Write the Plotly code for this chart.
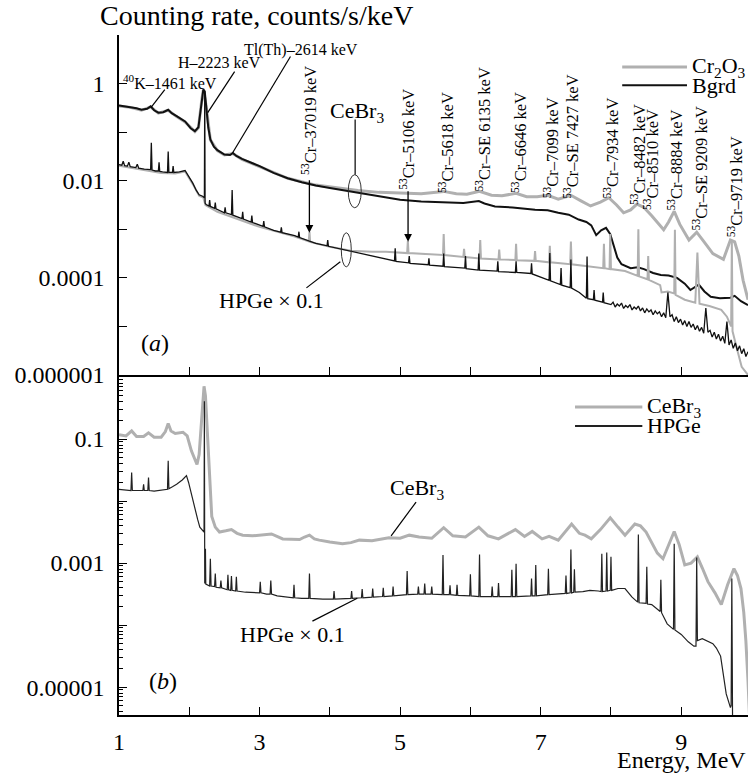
import plotly.graph_objects as go

# ---------------- data (values are log10 of counts/s/keV) ----------------
# Panel (a): CeBr3 spectra
bgrd_energy = [1.00,1.08,1.16,1.25,1.32,1.40,1.45,1.50,1.56,1.63,1.70,1.75,1.82,1.94,2.02,2.08,2.13,2.16,2.18,2.20,
               2.22,2.24,2.27,2.30,2.35,2.40,2.50,2.58,2.62,2.67,2.75,2.90,3.00,3.20,3.40,3.60,3.80,4.00,4.20,4.40,
               4.70,5.00,5.30,5.60,5.90,6.12,6.20,6.35,6.60,6.92,7.10,7.25,7.40,7.54,7.65,7.72,7.79,7.86,7.93,7.99,
               8.05,8.09,8.15,8.28,8.38,8.47,8.60,8.71,8.82,8.94,9.05,9.13,9.25,9.33,9.42,9.55,9.70,9.76,9.85,9.95]
bgrd_log10 = [-0.45,-0.47,-0.48,-0.51,-0.54,-0.52,-0.47,-0.55,-0.60,-0.59,-0.54,-0.61,-0.67,-0.78,-0.92,-0.98,-0.90,-0.60,-0.30,-0.12,
              -0.16,-0.45,-0.90,-1.15,-1.30,-1.37,-1.46,-1.47,-1.43,-1.49,-1.55,-1.64,-1.70,-1.84,-1.95,-2.03,-2.10,-2.15,-2.20,-2.25,
              -2.33,-2.39,-2.43,-2.45,-2.46,-2.42,-2.47,-2.53,-2.55,-2.60,-2.61,-2.66,-2.70,-2.80,-2.85,-2.92,-3.12,-3.02,-2.97,-3.10,
              -3.40,-3.58,-3.72,-3.80,-3.78,-3.82,-3.90,-3.94,-3.95,-4.00,-4.12,-4.25,-4.14,-4.28,-4.39,-4.42,-4.41,-4.37,-4.48,-4.56]

cr2o3_energy = [1.00,1.16,1.32,1.45,1.56,1.70,1.82,1.94,2.08,2.13,2.18,2.20,2.24,2.30,2.40,2.50,2.62,2.75,3.00,3.40,
                3.80,4.00,4.20,4.40,4.70,5.00,5.30,5.62,5.80,5.95,6.13,6.30,6.45,6.65,6.80,6.95,7.10,7.25,7.43,7.58,
                7.71,7.85,7.97,8.08,8.18,8.28,8.37,8.47,8.58,8.75,8.82,8.90,8.98,9.11,9.22,9.32,9.45,9.60,9.70,9.76,
                9.82,9.88,9.95]
cr2o3_log10 = [-0.46,-0.49,-0.55,-0.48,-0.61,-0.55,-0.68,-0.79,-0.99,-0.91,-0.31,-0.13,-0.46,-1.16,-1.38,-1.47,-1.44,-1.56,-1.71,-1.95,
               -2.09,-2.13,-2.17,-2.20,-2.24,-2.26,-2.27,-2.22,-2.27,-2.28,-2.22,-2.30,-2.31,-2.26,-2.33,-2.33,-2.30,-2.38,-2.30,-2.42,
               -2.52,-2.44,-2.35,-2.50,-2.66,-2.60,-2.48,-2.55,-2.72,-3.01,-2.85,-2.63,-2.90,-3.22,-3.06,-3.25,-3.50,-3.62,-3.22,-3.26,
               -3.55,-4.05,-4.45]

# Panel (a): HPGe x 0.1 spectra
hpge_bgrd_energy = [1.00,1.04,1.06,1.08,1.12,1.14,1.16,1.24,1.26,1.28,1.36,1.45,1.46,1.47,1.52,1.56,1.57,1.58,1.62,1.69,
                    1.70,1.71,1.76,1.77,1.78,1.86,1.94,2.00,2.05,2.10,2.14,2.19,2.215,2.22,2.225,2.24,2.28,2.29,2.30,2.36,
                    2.37,2.38,2.45,2.50,2.51,2.52,2.60,2.61,2.62,2.70,2.75,2.76,2.77,2.88,2.89,2.90,3.00,3.05,3.06,3.07,
                    3.20,3.30,3.31,3.32,3.50,3.55,3.56,3.57,3.70,3.80,3.96,3.97,3.98,4.20,4.40,4.60,4.80,4.92,4.93,4.94,
                    5.12,5.13,5.14,5.40,5.41,5.42,5.61,5.62,5.63,5.92,5.93,5.94,6.11,6.12,6.13,6.38,6.39,6.40,6.64,6.65,
                    6.66,6.86,6.87,6.88,7.12,7.13,7.14,7.28,7.29,7.30,7.42,7.43,7.44,7.55,7.65,7.66,7.67,7.75,7.76,7.77,
                    7.88,7.89,7.90,7.95,
                    8.00,8.03,8.06,8.09,8.12,8.15,8.18,8.21,8.24,8.27,8.30,8.33,8.36,8.39,8.42,8.45,8.48,8.51,8.54,8.57,
                    8.60,8.63,8.66,8.69,8.72,8.75,8.78,8.81,8.84,8.87,8.90,8.93,8.96,8.99,9.02,9.05,9.08,9.11,9.14,9.17,
                    9.20,9.23,9.26,9.29,9.32,9.35,9.38,9.41,9.44,9.47,9.50,9.53,9.56,9.59,9.62,9.65,9.68,9.71,9.74,9.77,
                    9.80,9.83,9.86,9.89,9.92,9.95]
hpge_bgrd_log10 = [-1.67,-1.68,-1.60,-1.69,-1.70,-1.62,-1.71,-1.73,-1.66,-1.74,-1.76,-1.77,-1.22,-1.78,-1.80,-1.80,-1.62,-1.81,-1.82,-1.83,
                   -1.40,-1.83,-1.83,-1.70,-1.83,-1.82,-1.79,-1.92,-2.05,-2.20,-2.29,-2.32,-2.35,-0.16,-2.46,-2.49,-2.52,-2.40,-2.53,-2.57,
                   -2.45,-2.58,-2.63,-2.66,-2.55,-2.66,-2.70,-2.19,-2.71,-2.76,-2.78,-2.64,-2.79,-2.85,-2.72,-2.86,-2.92,-2.94,-2.83,-2.95,
                   -3.02,-3.06,-2.96,-3.07,-3.13,-3.16,-3.05,-3.17,-3.24,-3.29,-3.34,-3.22,-3.35,-3.42,-3.49,-3.56,-3.62,-3.65,-3.39,-3.66,
                   -3.69,-3.55,-3.70,-3.73,-3.60,-3.74,-3.76,-3.50,-3.77,-3.80,-3.55,-3.81,-3.84,-3.50,-3.84,-3.86,-3.66,-3.87,-3.89,-3.66,
                   -3.89,-3.91,-3.70,-3.92,-4.05,-3.49,-4.06,-4.14,-3.80,-4.15,-4.20,-3.62,-4.21,-4.30,-4.42,-3.56,-4.43,-4.45,-4.25,-4.46,
                   -4.50,-4.30,-4.51,-4.53,
                   -4.55,-4.50,-4.60,-4.54,-4.58,-4.52,-4.63,-4.57,-4.61,-4.55,-4.66,-4.60,-4.64,-4.58,-4.68,-4.62,-4.72,-4.64,-4.70,-4.66,
                   -4.76,-4.68,-4.74,-4.70,-4.80,-4.72,-4.82,-4.30,-4.80,-4.76,-4.90,-4.80,-4.92,-4.85,-4.97,-4.88,-5.00,-4.90,-5.02,-4.95,
                   -5.07,-4.98,-5.10,-5.02,-5.14,-4.62,-5.12,-5.08,-5.22,-5.12,-5.26,-5.16,-5.30,-5.20,-5.35,-4.90,-5.38,-5.28,-5.45,-5.34,
                   -5.50,-5.40,-5.56,-5.46,-5.62,-5.52]

hpge_cr2o3_energy = [1.00,1.20,1.40,1.60,1.80,1.94,2.05,2.14,2.20,2.23,2.40,2.70,3.00,3.50,3.70,3.71,3.72,4.00,4.30,4.60,
                     4.80,5.10,5.11,5.12,5.40,5.61,5.62,5.63,5.90,5.91,5.92,6.13,6.14,6.15,6.40,6.41,6.42,6.64,6.65,6.66,
                     6.91,6.92,6.93,7.12,7.13,7.14,7.42,7.43,7.44,7.60,7.89,7.90,7.91,7.98,7.99,8.00,8.20,8.38,8.39,8.40,
                     8.52,8.53,8.54,8.70,8.72,8.81,8.90,8.91,8.92,9.05,9.20,9.23,9.26,9.40,9.57,9.65,9.71,9.72,9.73,9.80,
                     9.86,9.95]
hpge_cr2o3_log10 = [-1.69,-1.74,-1.79,-1.84,-1.85,-1.81,-2.07,-2.31,-2.35,-2.50,-2.64,-2.79,-2.95,-3.15,-3.25,-3.05,-3.26,-3.36,-3.44,-3.46,
                    -3.46,-3.49,-3.24,-3.49,-3.52,-3.53,-3.10,-3.53,-3.57,-3.40,-3.57,-3.60,-3.22,-3.60,-3.62,-3.42,-3.62,-3.63,-3.30,-3.64,
                    -3.65,-3.45,-3.65,-3.68,-3.34,-3.68,-3.72,-3.25,-3.72,-3.75,-3.80,-3.30,-3.80,-3.82,-3.10,-3.82,-3.86,-3.96,-3.00,-3.97,
                    -4.03,-3.55,-4.04,-4.15,-4.30,-4.28,-4.32,-3.01,-4.35,-4.45,-4.51,-3.48,-4.53,-4.58,-4.66,-4.80,-5.00,-3.26,-5.10,-5.50,
                    -5.83,-6.00]

# Panel (b): CeBr3 and HPGe x 0.1 (Cr2O3 target)
cebr3_energy = [1.00,1.10,1.18,1.25,1.35,1.42,1.50,1.60,1.66,1.70,1.74,1.80,1.91,1.97,2.03,2.08,2.11,2.14,2.17,2.20,
                2.21,2.23,2.26,2.29,2.32,2.37,2.43,2.52,2.60,2.68,2.76,2.90,3.00,3.17,3.33,3.45,3.57,3.64,3.71,3.78,
                3.85,4.00,4.18,4.30,4.42,4.60,4.84,5.00,5.13,5.27,5.45,5.62,5.75,5.93,6.12,6.25,6.40,6.64,6.77,6.88,
                7.02,7.12,7.25,7.44,7.55,7.63,7.72,7.85,7.99,8.10,8.20,8.34,8.42,8.50,8.58,8.66,8.74,8.82,8.90,8.97,
                9.05,9.14,9.23,9.30,9.38,9.48,9.57,9.66,9.75,9.80,9.85,9.89,9.92,9.95,9.97]
cebr3_log10 = [-0.93,-0.95,-0.87,-0.96,-0.96,-0.90,-0.97,-0.97,-0.88,-0.75,-0.87,-0.91,-0.89,-0.95,-1.19,-1.35,-1.41,-1.25,-0.80,-0.22,
               -0.15,-0.30,-0.95,-1.80,-2.25,-2.42,-2.50,-2.48,-2.46,-2.52,-2.55,-2.56,-2.55,-2.53,-2.61,-2.61,-2.62,-2.58,-2.55,-2.61,
               -2.63,-2.66,-2.69,-2.67,-2.63,-2.64,-2.59,-2.60,-2.55,-2.58,-2.60,-2.43,-2.56,-2.58,-2.42,-2.56,-2.61,-2.46,-2.57,-2.49,
               -2.61,-2.57,-2.63,-2.37,-2.52,-2.55,-2.61,-2.46,-2.27,-2.42,-2.55,-2.37,-2.40,-2.50,-2.66,-2.84,-2.93,-2.70,-2.49,-2.70,
               -3.03,-3.00,-2.90,-3.08,-3.30,-3.48,-3.67,-3.35,-3.09,-3.20,-3.41,-3.80,-4.26,-4.90,-5.43]

hpge_energy = [1.00,1.17,1.18,1.19,1.34,1.35,1.36,1.41,1.42,1.43,1.50,1.60,1.69,1.70,1.71,1.76,1.82,1.90,1.96,1.99,
               2.01,2.04,2.08,2.12,2.15,2.20,2.21,2.215,2.22,2.23,2.235,2.29,2.30,2.31,2.36,2.37,2.38,2.44,2.45,2.46,
               2.54,2.55,2.56,2.59,2.60,2.61,2.66,2.67,2.68,2.80,2.95,3.00,3.01,3.02,3.10,3.15,3.16,3.17,3.25,3.40,
               3.48,3.49,3.50,3.60,3.70,3.71,3.72,3.90,4.05,4.06,4.07,4.30,4.31,4.32,4.45,4.46,4.47,4.60,4.61,4.62,
               4.75,4.76,4.77,4.89,4.90,4.91,5.09,5.10,5.11,5.25,5.26,5.27,5.34,5.35,5.36,5.44,5.45,5.46,5.60,5.61,
               5.62,5.70,5.71,5.72,5.80,5.81,5.82,5.99,6.00,6.01,6.12,6.13,6.14,6.30,6.31,6.32,6.39,6.40,6.41,6.58,
               6.59,6.60,6.64,6.65,6.66,6.86,6.87,6.88,6.92,6.93,6.94,7.10,7.11,7.12,7.35,7.36,7.37,7.42,7.43,7.44,
               7.47,7.48,7.49,7.60,7.70,7.82,7.86,7.87,7.88,7.93,7.94,7.95,7.99,8.00,8.01,8.10,8.20,8.30,8.38,8.39,
               8.40,8.50,8.51,8.52,8.58,8.70,8.71,8.72,8.80,8.89,8.90,8.91,9.00,9.10,9.18,9.21,9.22,9.23,9.30,9.45,
               9.50,9.56,9.60,9.64,9.70,9.71,9.72,9.73,9.75]
hpge_log10 = [-1.81,-1.83,-1.54,-1.83,-1.83,-1.73,-1.83,-1.83,-1.62,-1.83,-1.84,-1.83,-1.81,-1.35,-1.80,-1.77,-1.73,-1.66,-1.59,-1.70,
              -1.80,-1.95,-2.13,-2.30,-2.42,-2.50,-2.50,-0.39,-3.33,-2.77,-3.34,-3.37,-2.93,-3.37,-3.38,-3.17,-3.39,-3.40,-3.28,-3.40,
              -3.43,-3.19,-3.43,-3.44,-3.21,-3.44,-3.45,-3.22,-3.45,-3.47,-3.48,-3.48,-3.30,-3.48,-3.50,-3.50,-3.28,-3.50,-3.53,-3.55,
              -3.56,-3.35,-3.56,-3.57,-3.57,-3.17,-3.57,-3.58,-3.58,-3.45,-3.58,-3.57,-3.45,-3.57,-3.56,-3.42,-3.56,-3.55,-3.41,-3.55,
              -3.54,-3.40,-3.54,-3.53,-3.38,-3.53,-3.51,-3.13,-3.51,-3.50,-3.38,-3.50,-3.50,-3.33,-3.50,-3.50,-3.38,-3.50,-3.51,-2.87,
              -3.51,-3.51,-3.36,-3.51,-3.52,-3.35,-3.52,-3.53,-3.18,-3.53,-3.54,-2.86,-3.54,-3.54,-3.38,-3.54,-3.54,-3.32,-3.54,-3.54,
              -3.11,-3.54,-3.54,-3.01,-3.54,-3.53,-3.25,-3.53,-3.53,-3.03,-3.53,-3.51,-3.09,-3.51,-3.49,-3.20,-3.49,-3.48,-2.78,-3.48,
              -3.47,-3.10,-3.47,-3.46,-3.44,-3.45,-3.46,-2.85,-3.46,-3.45,-2.83,-3.45,-3.44,-2.90,-3.44,-3.41,-3.41,-3.55,-3.63,-2.54,
              -3.64,-3.65,-3.06,-3.66,-3.67,-3.78,-3.27,-3.80,-3.98,-4.07,-2.69,-4.08,-4.15,-4.27,-4.34,-4.34,-2.91,-4.25,-4.22,-4.30,
              -4.37,-4.50,-4.85,-5.11,-5.33,-5.30,-3.25,-5.45,-5.60]

# Peak labels of panel (a): text, energy position (MeV), log10 position of label centre
peak_labels = ["<sup>53</sup>Cr–37019 keV", "<sup>53</sup>Cr–5106 keV", "<sup>53</sup>Cr–5618 keV",
               "<sup>53</sup>Cr–SE 6135 keV", "<sup>53</sup>Cr–6646 keV", "<sup>53</sup>Cr–7099 keV",
               "<sup>53</sup>Cr–SE 7427 keV", "<sup>53</sup>Cr–7934 keV", "<sup>53</sup>Cr–8482 keV",
               "<sup>53</sup>Cr–8510 keV", "<sup>53</sup>Cr–8884 keV", "<sup>53</sup>Cr–SE 9209 keV",
               "<sup>53</sup>Cr–9719 keV"]
peak_label_x = [3.709, 5.113, 5.652, 6.191, 6.688, 7.156, 7.440, 8.007, 8.390, 8.574, 8.915, 9.270, 9.766]
peak_label_y = [-0.76, -1.155, -1.206, -0.948, -1.206, -1.320, -1.103, -1.330, -1.464, -1.567, -1.577, -1.742, -2.134]

x_tick_vals = [1, 2, 3, 4, 5, 6, 7, 8, 9]
x_tick_text = ["1", "", "3", "", "5", "", "7", "", "9"]
ya_tick_vals = [1e-6, 1e-5, 1e-4, 1e-3, 1e-2, 1e-1, 1, 10]
ya_tick_text = ["0.000001", "", "0.0001", "", "0.01", "", "1", ""]
yb_tick_vals = [1e-5, 1e-4, 1e-3, 1e-2, 1e-1, 1]
yb_tick_text = ["0.00001", "", "0.001", "", "0.1", ""]

# ---------------- figure ----------------
FONT = "Liberation Serif"
GRAY = "#b0b0b0"
BLACK = "#111111"


def rate(vals):
    return [10 ** v for v in vals]


fig = go.Figure()
# panel (a)
fig.add_trace(go.Scatter(x=cr2o3_energy, y=rate(cr2o3_log10), mode="lines", name="Cr<sub>2</sub>O<sub>3</sub>",
                         line=dict(color=GRAY, width=3), xaxis="x", yaxis="y", showlegend=False))
fig.add_trace(go.Scatter(x=bgrd_energy, y=rate(bgrd_log10), mode="lines", name="Bgrd",
                         line=dict(color=BLACK, width=2), xaxis="x", yaxis="y", showlegend=False))
fig.add_trace(go.Scatter(x=hpge_cr2o3_energy, y=rate(hpge_cr2o3_log10), mode="lines", name="HPGe Cr2O3",
                         line=dict(color=GRAY, width=2), xaxis="x", yaxis="y", showlegend=False))
fig.add_trace(go.Scatter(x=hpge_bgrd_energy, y=rate(hpge_bgrd_log10), mode="lines", name="HPGe Bgrd",
                         line=dict(color=BLACK, width=1.3), xaxis="x", yaxis="y", showlegend=False))
# panel (b)
fig.add_trace(go.Scatter(x=cebr3_energy, y=rate(cebr3_log10), mode="lines", name="CeBr<sub>3</sub>",
                         line=dict(color=GRAY, width=3), xaxis="x2", yaxis="y2", showlegend=False))
fig.add_trace(go.Scatter(x=hpge_energy, y=rate(hpge_log10), mode="lines", name="HPGe",
                         line=dict(color="#222222", width=1.2), xaxis="x2", yaxis="y2", showlegend=False))

axis_common = dict(showline=True, linecolor="black", linewidth=1.5, ticks="inside", tickcolor="black",
                   tickwidth=1.3, showgrid=False, zeroline=False,
                   tickfont=dict(family=FONT, size=24, color="black"))

minor_b = [m * 10 ** e for e in range(-6, 0) for m in range(2, 10)]

fig.update_layout(
    width=756, height=776,
    margin=dict(l=119, r=8, t=35, b=61),
    paper_bgcolor="white", plot_bgcolor="white",
    font=dict(family=FONT, color="black"),
    xaxis=dict(domain=[0, 1], anchor="y", range=[1, 9.95], tickvals=x_tick_vals[1:],
               showticklabels=False, ticklen=8, **axis_common),
    yaxis=dict(domain=[0.5, 1], anchor="x", type="log", range=[-6, 1], tickvals=ya_tick_vals,
               ticktext=ya_tick_text, ticklen=8, ticklabelstandoff=8, **axis_common),
    xaxis2=dict(domain=[0, 1], anchor="y2", range=[1, 9.95], tickvals=x_tick_vals, ticktext=x_tick_text,
                ticklen=8, ticklabelstandoff=4, **axis_common),
    yaxis2=dict(domain=[0, 0.497], anchor="x2", type="log", range=[-5.45, 0], tickvals=yb_tick_vals,
                ticktext=yb_tick_text, ticklen=8, ticklabelstandoff=8,
                minor=dict(ticks="inside", ticklen=4, tickvals=minor_b, tickcolor="black", tickwidth=1),
                **axis_common),
)

ann = []
# axis titles
ann.append(dict(text="Counting rate, counts/s/keV", xref="paper", yref="paper", x=-0.033, y=1.029,
                xanchor="left", yanchor="middle", showarrow=False, font=dict(size=28)))
ann.append(dict(text="Energy, MeV", xref="paper", yref="paper", x=1.0, y=-0.066,
                xanchor="right", yanchor="middle", showarrow=False, font=dict(size=24)))

# rotated peak labels in panel (a)
for t, xv, yv in zip(peak_labels, peak_label_x, peak_label_y):
    ann.append(dict(text=t, x=xv, y=yv, xref="x", yref="y", textangle=-90, showarrow=False,
                    xanchor="center", yanchor="middle", font=dict(size=16.5)))

# horizontal labels in panel (a)
ann += [
    dict(text="<sup>40</sup>K–1461 keV", x=1.723, y=0.041, xref="x", yref="y", showarrow=False, font=dict(size=16)),
    dict(text="H–2223 keV", x=2.433, y=0.433, xref="x", yref="y", showarrow=False, font=dict(size=16)),
    dict(text="Tl(Th)–2614 keV", x=3.596, y=0.701, xref="x", yref="y", showarrow=False, font=dict(size=16)),
    dict(text="CeBr<sub>3</sub>", x=4.39, y=-0.577, xref="x", yref="y", showarrow=False, font=dict(size=22)),
    dict(text="HPGe × 0.1", x=3.17, y=-4.474, xref="x", yref="y", showarrow=False, font=dict(size=22)),
    dict(text="(<i>a</i>)", x=1.511, y=-5.34, xref="x", yref="y", showarrow=False, font=dict(size=24)),
    # arrows
    dict(text="", x=3.709, y=-3.07, xref="x", yref="y", showarrow=True, ax=0, ay=-54, arrowhead=2,
         arrowsize=1.2, arrowwidth=1.3, arrowcolor="black"),
    dict(text="", x=5.113, y=-3.258, xref="x", yref="y", showarrow=True, ax=0, ay=-52, arrowhead=2,
         arrowsize=1.2, arrowwidth=1.3, arrowcolor="black"),
    # panel (b)
    dict(text="CeBr<sub>3</sub>", x=5.241, y=-1.808, xref="x2", yref="y2", showarrow=False, font=dict(size=22)),
    dict(text="HPGe × 0.1", x=3.468, y=-4.144, xref="x2", yref="y2", showarrow=False, font=dict(size=22)),
    dict(text="(<i>b</i>)", x=1.624, y=-4.896, xref="x2", yref="y2", showarrow=False, font=dict(size=24)),
]

# legends (drawn manually to match the compact layout)
legend_rows = [
    ("Cr<sub>2</sub>O<sub>3</sub>", GRAY, 3, 0.800, 0.903, 0.953, 0.908),
    ("Bgrd", BLACK, 2, 0.800, 0.903, 0.926, 0.908),
    ("CeBr<sub>3</sub>", GRAY, 3, 0.725, 0.832, 0.453, 0.837),
    ("HPGe", "#222222", 2, 0.725, 0.832, 0.425, 0.837),
]
shapes = []
for label, col, w, x0, x1, yy, xt in legend_rows:
    shapes.append(dict(type="line", xref="paper", yref="paper", x0=x0, x1=x1, y0=yy, y1=yy,
                       line=dict(color=col, width=w)))
    ann.append(dict(text=label, xref="paper", yref="paper", x=xt, y=yy, xanchor="left", yanchor="middle",
                    showarrow=False, font=dict(size=22)))

# leader lines and ellipses (positions as energy / log10 rate)
leaders_a = [
    (1.652, -0.124, 1.454, -0.495),
    (2.645, 0.247, 2.262, -0.598),
    (3.44, 0.557, 2.617, -1.423),
    (4.36, -0.742, 4.36, -1.876),
    (4.149, -3.670, 3.667, -4.206),
]
for x0, y0, x1, y1 in leaders_a:
    shapes.append(dict(type="line", xref="x", yref="y", x0=x0, y0=10 ** y0, x1=x1, y1=10 ** y1,
                       line=dict(color="black", width=1.2)))
leaders_b = [
    (5.227, -2.016, 4.872, -2.56),
    (3.752, -3.936, 4.390, -3.568),
]
for x0, y0, x1, y1 in leaders_b:
    shapes.append(dict(type="line", xref="x2", yref="y2", x0=x0, y0=10 ** y0, x1=x1, y1=10 ** y1,
                       line=dict(color="black", width=1.2)))
ellipses = [
    (4.262, -2.557, 4.447, -1.876),
    (4.163, -3.773, 4.305, -3.072),
]
for x0, y0, x1, y1 in ellipses:
    shapes.append(dict(type="circle", xref="x", yref="y", x0=x0, y0=10 ** y0, x1=x1, y1=10 ** y1,
                       line=dict(color="#333333", width=1)))

for a in ann:
    a.setdefault("font", {})
    a["font"] = dict(family=FONT, color="black", size=a["font"].get("size", 16))
fig.update_layout(annotations=ann, shapes=shapes)

# remove the default 8 px page margin so the figure fills the window exactly
fig.write_html("out.html", post_script="document.body.style.margin='0px';",
               config={"displayModeBar": False})
